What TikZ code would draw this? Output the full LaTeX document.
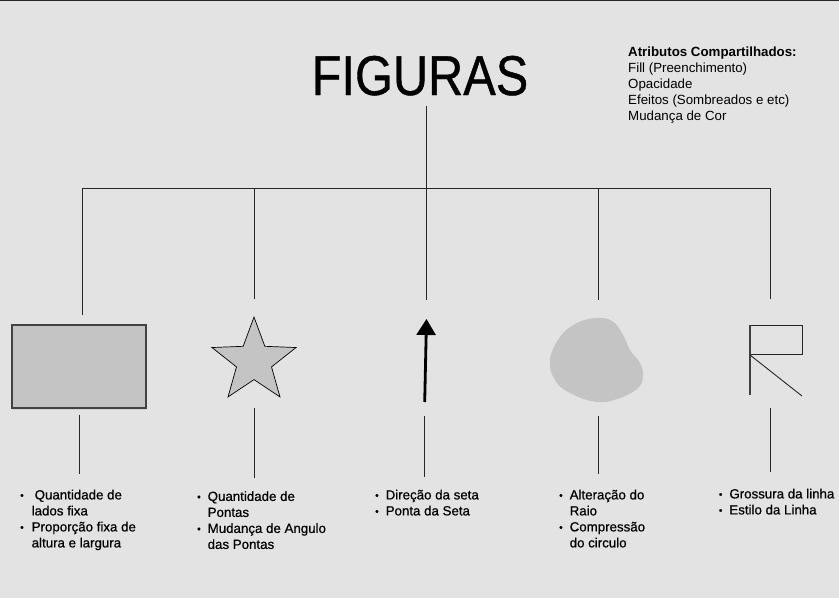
\documentclass[tikz,border=0pt]{standalone}
\usepackage{fontspec}
\setmainfont{Liberation Sans}
\newfontfamily\listafont[FakeBold=0.6]{Liberation Sans}
\newfontfamily\titulofont[FakeBold=0.8]{Liberation Sans}
\usetikzlibrary{arrows.meta, positioning, shapes.geometric, shadows}

\definecolor{fundo}{HTML}{E3E3E3}
\definecolor{cinza}{HTML}{C4C4C4}
\definecolor{borda}{HTML}{424242}

\newcommand{\pto}{\raisebox{0.6pt}{\fontsize{10}{10}\selectfont\textbullet}}

\tikzset{
    liga/.style={draw=black!85, line width=0.9pt},
    lista/.style={anchor=north west, inner sep=0pt, font=\listafont\fontsize{13.3}{16}\selectfont},
    sombra/.style={drop shadow={opacity=0.18, shadow xshift=0pt, shadow yshift=-2pt}},
}

\begin{document}
\begin{tikzpicture}[x=1pt, y=-1pt]
    % Background and top border
    \fill[fundo] (0,0) rectangle (839,598);
    \fill[black!85] (0,0) rectangle (839,1.3);
    \useasboundingbox (0,0) rectangle (839,598);

    % Title
    \node[anchor=base, inner sep=0pt, xscale=0.87, font=\titulofont\fontsize{56}{56}\selectfont] (titulo) at (420,95) {FIGURAS};

    % Shared attributes
    \node[anchor=north west, inner sep=0pt, align=left, font=\fontsize{13.3}{16}\selectfont] (attr) at (628,47)
        {\textbf{Atributos Compartilhados:}\\Fill (Preenchimento)\\Opacidade\\Efeitos (Sombreados e etc)\\Mudança de Cor};

    % Tree connectors
    \foreach \i/\x in {1/82, 2/254, 3/426, 4/598, 5/770}
        \coordinate (j\i) at (\x,188);
    \draw[liga, shorten <=10pt] (titulo.south -| j3) -- (j3);
    \draw[liga] (j1) -- (j5);

    % Shapes
    \node[draw=borda, line width=1.3pt, fill=cinza, minimum width=134pt, minimum height=83pt, sombra] (retangulo) at (79,366.5) {};
    \node[star, star points=5, star point ratio=2.4, minimum size=88.4pt, inner sep=0pt, draw=black, line width=0.7pt, fill=cinza] (estrela) at (254,361.2) {};
    \coordinate (seta0) at (424.7,402);
    \coordinate (seta1) at (426.5,319);
    \draw[line width=2.8pt, -{Triangle[length=16pt, width=19pt]}, sombra] (seta0) -- (seta1);
    \coordinate (blob) at (598,360);
    \fill[cinza] plot[smooth cycle, tension=0.7] coordinates {(550,360) (560,337) (577,323) (597,318) (612,321) (622,333) (630,350) (640,363) (643,376) (638,388) (620,398) (597,402) (570,393) (555,380)};
    \coordinate (bandeira) at (750,325);
    \draw[black!85, line width=0.9pt] (bandeira) rectangle ++(52,29);
    \draw[black!75, line width=1.1pt] (bandeira) -- ++(0,70);
    \draw[black!85, line width=0.9pt] ([yshift=-30pt]bandeira) -- ++(52,41);

    % Lists
    \node[lista] (txt1) at (20,488) {\begin{tabular}{@{}l@{\hspace{8pt}}l@{}}
        \pto & \hspace{3pt}Quantidade de\\ & lados fixa\\ \pto & Proporção fixa de\\ & altura e largura\end{tabular}};
    \node[lista] (txt2) at (197,489.5) {\begin{tabular}{@{}l@{\hspace{7pt}}l@{}}
        \pto & Quantidade de\\ & Pontas\\ \pto & Mudança de Angulo\\ & das Pontas\end{tabular}};
    \node[lista] (txt3) at (375,488) {\begin{tabular}{@{}l@{\hspace{7pt}}l@{}}
        \pto & Direção da seta\\ \pto & Ponta da Seta\end{tabular}};
    \node[lista] (txt4) at (559,488) {\begin{tabular}{@{}l@{\hspace{7pt}}l@{}}
        \pto & Alteração do\\ & Raio\\ \pto & Compressão\\ & do circulo\end{tabular}};
    \node[lista] (txt5) at (718.7,487) {\begin{tabular}{@{}l@{\hspace{7pt}}l@{}}
        \pto & Grossura da linha\\ \pto & Estilo da Linha\end{tabular}};

    % Upper connectors
    \draw[liga, shorten >=9pt] (j1) -- (j1 |- retangulo.north);
    \draw[liga, shorten >=17pt] (j2) -- (estrela.north);
    \draw[liga, shorten >=19pt] (j3) -- (j3 |- seta1);
    \draw[liga, shorten >=60pt] (j4) -- (blob);
    \draw[liga, shorten >=26pt] (j5) -- (j5 |- bandeira);

    % Lower connectors
    \draw[liga, shorten <=6pt, shorten >=14pt] (retangulo.south) -- (retangulo.south |- txt1.north);
    \draw[liga, shorten <=47pt, shorten >=12pt] (estrela.center) -- (estrela.center |- txt2.north);
    \draw[liga, shorten <=14pt, shorten >=11pt] (seta0) -- (seta0 |- txt3.north);
    \draw[liga, shorten <=56pt, shorten >=14pt] (blob) -- (blob |- txt4.north);
    \draw[liga, shorten <=83pt, shorten >=15pt] ([xshift=20pt]bandeira) -- ([xshift=20pt]bandeira |- txt5.north);
\end{tikzpicture}
\end{document}
